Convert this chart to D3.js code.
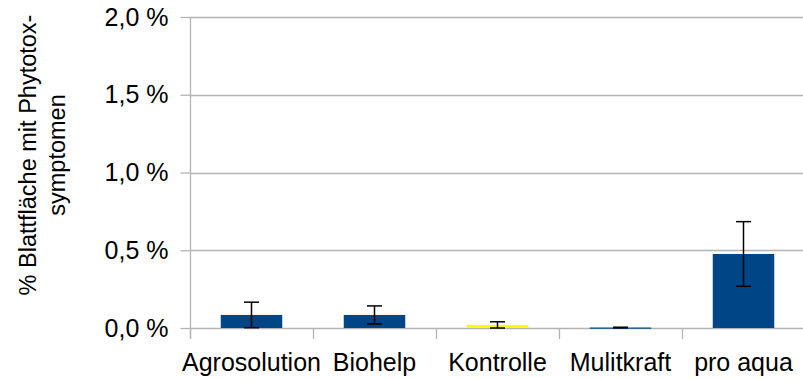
<!DOCTYPE html>
<html><head><meta charset="utf-8">
<script src="https://cdn.jsdelivr.net/npm/d3@7"></script>
<style>body{margin:0;background:#fff}svg{display:block}text{font-family:"Liberation Sans",Arial,sans-serif;fill:#000}</style>
</head><body><svg id="c" width="803" height="379"></svg>
<script>
const categories = ["Agrosolution","Biohelp","Kontrolle","Mulitkraft","pro aqua"];
const values = [0.084, 0.084, 0.020, 0.003, 0.476];
const errors = [0.082, 0.058, 0.020, 0.002, 0.208];
const colors = ["#004586","#004586","#ffff00","#004586","#004586"];
const yTicks = [0, 0.5, 1.0, 1.5, 2.0];
const yTitle = ["% Blattfläche mit Phytotox-", "symptomen"];

const svg = d3.select("#c");
const x = d3.scaleBand().domain(categories).range([190, 805]).paddingInner(0).paddingOuter(0);
const y = d3.scaleLinear().domain([0, 2]).range([328, 17]);
const grey = "#b3b3b3";
const fmt = v => d3.format(".1f")(v).replace(".", ",") + " %";

// gridlines
svg.append("g").selectAll("line").data(yTicks).join("line")
  .attr("x1", 190).attr("x2", 805)
  .attr("y1", d => Math.round(y(d)) + 0.5).attr("y2", d => Math.round(y(d)) + 0.5)
  .attr("stroke", grey).attr("stroke-width", 1.3);

// y axis
const ya = svg.append("g").attr("transform", "translate(190.5,0)")
  .call(d3.axisLeft(y).tickValues(yTicks).tickFormat(fmt).tickSize(10).tickPadding(12));
ya.select(".domain").attr("stroke", grey).attr("stroke-width", 1.3).attr("d", "M-0,17V339");
ya.selectAll(".tick line").attr("stroke", grey).attr("stroke-width", 1.3);
ya.selectAll(".tick text").attr("font-size", 25).attr("font-family", "Liberation Sans, Arial, sans-serif").attr("fill", "#000");

// x axis ticks at band boundaries
const bounds = categories.map(c => x(c)).concat([x(categories[categories.length-1]) + x.bandwidth()]);
svg.append("g").selectAll("line").data(bounds).join("line")
  .attr("x1", d => Math.round(d) + 0.5).attr("x2", d => Math.round(d) + 0.5)
  .attr("y1", 328).attr("y2", 339).attr("stroke", grey).attr("stroke-width", 1.3);

// bars
const bw = x.bandwidth() * 0.5;
svg.append("g").selectAll("rect").data(categories).join("rect")
  .attr("x", (d) => x(d) + (x.bandwidth() - bw) / 2)
  .attr("width", bw)
  .attr("y", (d, i) => y(values[i]))
  .attr("height", (d, i) => Math.max(1.2, y(0) - y(values[i])))
  .attr("fill", (d, i) => colors[i]);

// error bars
const eg = svg.append("g").attr("stroke", "#000").attr("stroke-width", 1.5);
categories.forEach((c, i) => {
  const cx = x(c) + x.bandwidth() / 2;
  const y1 = y(values[i] + errors[i]), y0 = y(Math.max(0, values[i] - errors[i]));
  eg.append("line").attr("x1", cx).attr("x2", cx).attr("y1", y1).attr("y2", y0);
  eg.append("line").attr("x1", cx - 7.5).attr("x2", cx + 7.5).attr("y1", y1).attr("y2", y1);
  eg.append("line").attr("x1", cx - 7.5).attr("x2", cx + 7.5).attr("y1", y0).attr("y2", y0);
});

// category labels
svg.append("g").selectAll("text").data(categories).join("text")
  .attr("x", d => x(d) + x.bandwidth() / 2).attr("y", 371)
  .attr("text-anchor", "middle").attr("font-size", 25).text(d => d);

// y title
svg.append("g").selectAll("text").data(yTitle).join("text")
  .attr("transform", (d, i) => `translate(${36 + i * 29},155) rotate(-90)`)
  .attr("text-anchor", "middle").attr("font-size", 23.5).text(d => d);
</script></body></html>
